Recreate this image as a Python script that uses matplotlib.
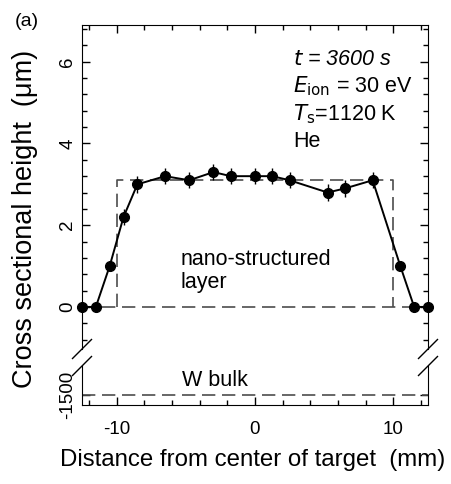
import matplotlib
matplotlib.use("Agg")
import matplotlib.pyplot as plt
from matplotlib.lines import Line2D
from matplotlib.ticker import MultipleLocator

plt.rcParams['font.family'] = ['Liberation Sans', 'DejaVu Sans']
plt.rcParams['axes.unicode_minus'] = False

# measured cross sectional height vs position
distance_mm = [-12.5, -11.5, -10.5, -9.5, -8.5, -6.5, -4.75, -3.0, -1.75, 0.0,
               1.25, 2.5, 5.25, 6.5, 8.5, 10.5, 11.5, 12.5]
height_um = [0.0, 0.0, 1.0, 2.2, 3.0, 3.2, 3.1, 3.3, 3.2, 3.2,
             3.2, 3.1, 2.8, 2.9, 3.1, 1.0, 0.0, 0.0]
height_err = [0.0, 0.0, 0.0, 0.2, 0.2, 0.2, 0.2, 0.2, 0.2, 0.2,
              0.2, 0.2, 0.2, 0.2, 0.2, 0.0, 0.0, 0.0]

# nano-structured layer box and bulk level
layer_x = [-10, -10, 10, 10]
layer_y = [0, 3.1, 3.1, 0]
bulk_level = -1500

W, H = 452, 484
fig = plt.figure(figsize=(W / 100, H / 100), dpi=100)

def fx(px):
    return px / W

def fy(py):
    return 1 - py / H

left, right = 82, 428
top_ax = fig.add_axes([fx(left), fy(349), fx(right - left), (349 - 25) / H])
bot_ax = fig.add_axes([fx(left), fy(405), fx(right - left), (405 - 366) / H])

dash = dict(color='0.3', lw=1.2, dashes=(8, 4))
txt = 15.5
tick_fs = 13.5

# top panel
top_ax.plot(layer_x, layer_y, **dash)
top_ax.axhline(0, **dash)
top_ax.errorbar(distance_mm, height_um, yerr=height_err, fmt='o-', color='black',
                ms=7, lw=1.4, elinewidth=1.0, capsize=0, clip_on=False, zorder=5)
top_ax.set_xlim(-12.5, 12.5)
top_ax.set_ylim(-1.03, 6.9)
top_ax.yaxis.set_major_locator(MultipleLocator(2))
top_ax.yaxis.set_minor_locator(MultipleLocator(0.4))
top_ax.xaxis.set_major_locator(MultipleLocator(10))
top_ax.xaxis.set_minor_locator(MultipleLocator(2))
top_ax.spines['bottom'].set_visible(False)
top_ax.tick_params(which='both', direction='in', top=True, right=True, bottom=False,
                   labelbottom=False, labelsize=tick_fs, width=1.0)
top_ax.tick_params(which='major', length=6)
top_ax.tick_params(which='minor', length=3.5)
top_ax.tick_params(axis='y', labelrotation=90, pad=4)
for lab in top_ax.get_yticklabels():
    lab.set_va('center')

ann_x = 0.61
top_ax.text(ann_x, 0.895, "$t$ = 3600 s", transform=top_ax.transAxes, fontsize=txt,
            style='italic', va='center')
top_ax.text(ann_x, 0.81, "$E_{\\mathrm{ion}}$ = 30 eV", transform=top_ax.transAxes,
            fontsize=txt, va='center')
top_ax.text(ann_x, 0.725, "$T_{\\mathrm{s}}$=1120 K", transform=top_ax.transAxes,
            fontsize=txt, va='center')
top_ax.text(ann_x, 0.64, "He", transform=top_ax.transAxes, fontsize=txt, va='center')
top_ax.text(-5.4, 0.88, "nano-structured\nlayer", fontsize=txt, va='center',
            linespacing=1.15)

# bottom panel
bot_ax.axhline(bulk_level, **dash)
bot_ax.set_xlim(-12.5, 12.5)
bot_ax.set_ylim(-1530, -1413)
bot_ax.set_yticks([bulk_level])
bot_ax.xaxis.set_major_locator(MultipleLocator(10))
bot_ax.xaxis.set_minor_locator(MultipleLocator(2))
bot_ax.yaxis.set_minor_locator(MultipleLocator(1000))
bot_ax.spines['top'].set_visible(False)
bot_ax.tick_params(which='both', direction='in', right=True, labelsize=tick_fs, width=1.0)
bot_ax.tick_params(which='major', length=6)
bot_ax.tick_params(which='minor', length=3.5)
bot_ax.tick_params(axis='x', pad=11.5)
bot_ax.tick_params(axis='y', labelrotation=90, pad=4)
for lab in bot_ax.get_yticklabels():
    lab.set_va('center')
bot_ax.text(-5.3, -1458, "W bulk", fontsize=txt, va='center')

# break marks
for sx in (left, right):
    for cy in (349, 366):
        fig.add_artist(Line2D([fx(sx - 9.5), fx(sx + 9.5)], [fy(cy + 9.5), fy(cy - 9.5)],
                              color='black', lw=1.0))

fig.text(fx(25), fy(219), "Cross sectional height  (μm)", rotation=90,
         ha='center', va='center', fontsize=19.5)
fig.text(fx(253), fy(460), "Distance from center of target  (mm)",
         ha='center', va='center', fontsize=17.3)
fig.text(fx(15), fy(21), "(a)", ha='left', va='center', fontsize=14)

fig.savefig("out.png", dpi=100)
